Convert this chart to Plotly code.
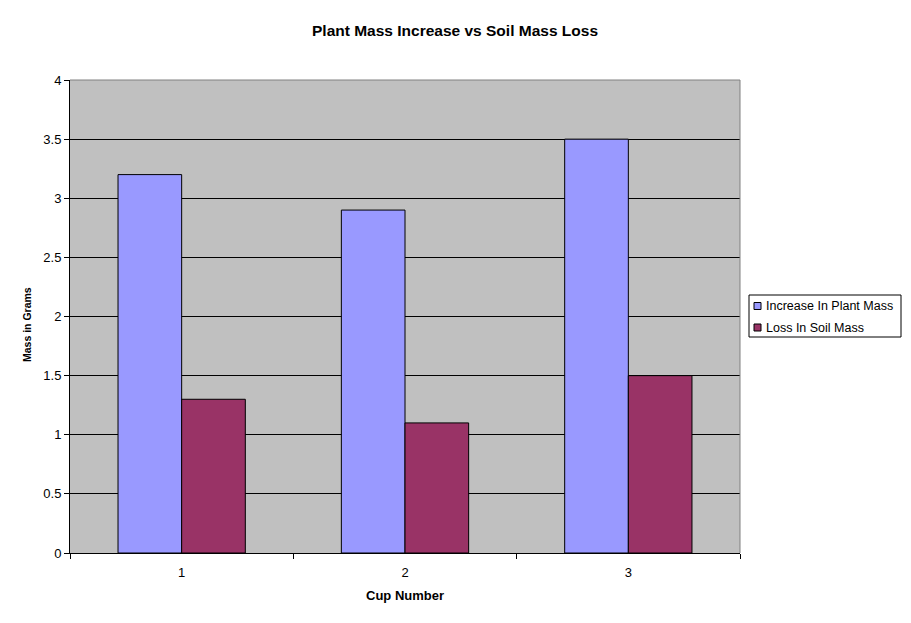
import plotly.graph_objects as go

# Données
cups = ["1", "2", "3"]
plant_increase = [3.2, 2.9, 3.5]
soil_loss = [1.3, 1.1, 1.5]
series_names = ["Increase In Plant Mass", "Loss In Soil Mass"]
series_colors = ["#9999FF", "#993366"]

# La page a une marge de 8 px : on compense dans les marges
OFF = 8
L, R, T, B = 70 - OFF, 911 - (740 - OFF), 80 - OFF, 623 - (553 - OFF)
PW, PH = 911 - L - R, 623 - T - B


def px_x(x):
    # pixel de la page -> coordonnée paper
    return (x - OFF - L) / PW


def px_y(y):
    return (623 - B - (y - OFF)) / PH


fig = go.Figure()

for name, vals, col in zip(series_names, [plant_increase, soil_loss], series_colors):
    fig.add_trace(go.Bar(
        x=cups, y=vals, name=name, showlegend=False,
        marker=dict(color=col, line=dict(color="black", width=1))
    ))

fig.update_layout(
    width=911, height=623,
    margin=dict(l=L, r=R, t=T, b=B, autoexpand=False),
    paper_bgcolor="white",
    plot_bgcolor="#C0C0C0",
    barmode="group",
    bargap=0.43,
    bargroupgap=0,
    font=dict(family="Liberation Sans, Arial", size=12, color="black"),
    title=dict(
        text="<b>Plant Mass Increase vs Soil Mass Loss</b>",
        x=(455 - OFF) / 911, xref="container", y=1 - (31 - OFF) / 623, yref="container",
        xanchor="center", yanchor="middle",
        font=dict(size=15.5)
    ),
    xaxis=dict(
        type="category", automargin=False,
        showline=True, linecolor="black", linewidth=1,
        ticks="outside", ticklen=5, tickcolor="black",
        tickson="boundaries", ticklabelstandoff=7,
        showgrid=False,
        tickfont=dict(size=13),
    ),
    yaxis=dict(
        range=[0, 4], dtick=0.5, automargin=False,
        showline=True, linecolor="black", linewidth=1,
        ticks="outside", ticklen=5, tickcolor="black",
        showgrid=True, gridcolor="black", gridwidth=1,
        zeroline=False,
        tickfont=dict(size=13),
    ),
)

# Titres des axes
fig.add_annotation(text="<b>Cup Number</b>", xref="paper", yref="paper",
                   x=px_x(405), y=px_y(595), showarrow=False, font=dict(size=13),
                   xanchor="center", yanchor="middle")
fig.add_annotation(text="<b>Mass in Grams</b>", xref="paper", yref="paper",
                   x=px_x(27), y=px_y(325), showarrow=False, font=dict(size=10.5),
                   textangle=-90, xanchor="center", yanchor="middle")

# Bordure grise haut/droite de la zone de tracé
fig.add_shape(type="line", xref="paper", yref="paper", x0=0, x1=1, y0=1, y1=1,
              line=dict(color="#808080", width=1))
fig.add_shape(type="line", xref="paper", yref="paper", x0=1, x1=1, y0=0, y1=1,
              line=dict(color="#808080", width=1))

# Légende dessinée à la main (cadre, carrés, textes)
fig.add_shape(type="rect", xref="paper", yref="paper",
              x0=px_x(749), x1=px_x(901), y0=px_y(337), y1=px_y(295),
              line=dict(color="black", width=1), fillcolor="white")
for i, (name, col) in enumerate(zip(series_names, series_colors)):
    yc = 306 + 21.5 * i
    fig.add_shape(type="rect", xref="paper", yref="paper",
                  x0=px_x(754), x1=px_x(761), y0=px_y(yc + 3.5), y1=px_y(yc - 3.5),
                  line=dict(color="black", width=1), fillcolor=col)
    fig.add_annotation(text=name, xref="paper", yref="paper",
                       x=px_x(764), y=px_y(yc), showarrow=False,
                       xanchor="left", yanchor="middle", font=dict(size=12.5))

fig.write_html("out.html")
